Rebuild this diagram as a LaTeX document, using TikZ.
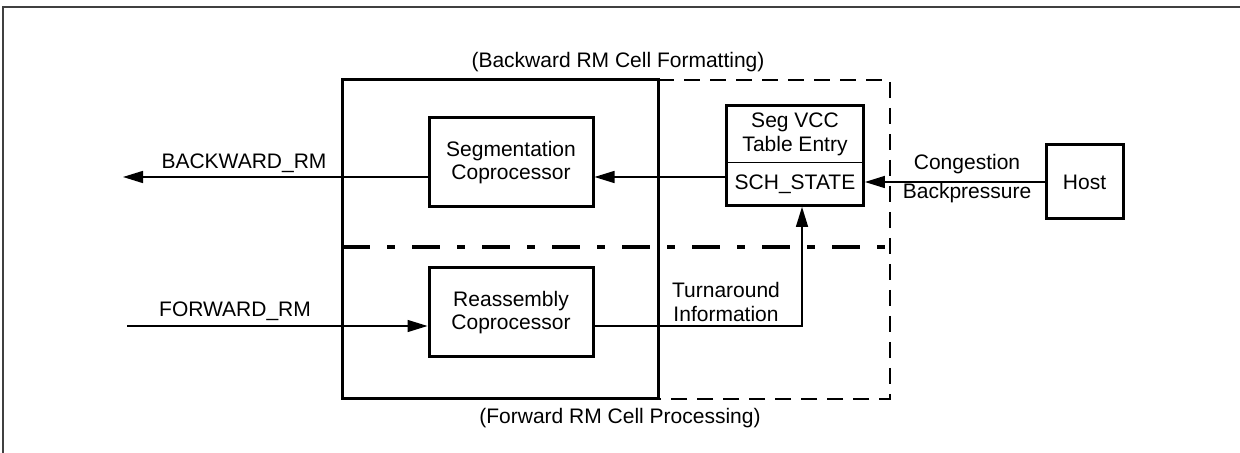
\documentclass[tikz,border=0pt]{standalone}
\usepackage{fontspec}
\setmainfont{Liberation Sans}
\usetikzlibrary{arrows.meta,fit}

\begin{document}
\begin{tikzpicture}[x=0.5pt, y=-0.5pt, >={Triangle[length=10pt,width=6pt]},
	font=\fontsize{10.5}{11.7}\selectfont,
	block/.style={draw, line width=1.5pt, minimum width=82pt, minimum height=44.5pt, align=center, inner sep=0pt},
	conn/.style={line width=0.75pt},
	lbl/.style={inner sep=0pt}]
	
	\useasboundingbox (0,0) rectangle (1240,453);
	
	% 1. Outer frame (top and left edges only)
	\draw[black!75, line width=0.8pt] (1240,7) -- (3,7) -- (3,453);
	
	% 2. Backward / forward regions
	\draw[line width=1.5pt] (342,80) rectangle (658,399);
	\draw[line width=0.9pt, dash pattern=on 8pt off 5pt] (658,80) -- (890,80) -- (890,399) -- (658,399);
	\draw[line width=2pt, dash pattern=on 14pt off 8.5pt on 4pt off 8.5pt] (342,247) -- (890,247);
	\node[lbl] (toplbl) at (618,62) {(Backward RM Cell Formatting)};
	\node[lbl] (botlbl) at (620,418) {(Forward RM Cell Processing)};
	
	% 3. Blocks
	\node[block] (segcop) at (511,162.5) {Segmentation\\Coprocessor};
	\node[block] (reacop) at (511,312.5) {Reassembly\\Coprocessor};
	\node[minimum width=68pt, minimum height=28.5pt, align=center, inner sep=0pt] (vcchead) at (795,134.5) {Seg VCC\\Table Entry};
	\node[minimum width=68pt, minimum height=21pt, inner sep=0pt] (vccstate) at (795,184) {SCH\_STATE};
	\node[draw, line width=1.5pt, fit=(vcchead)(vccstate), inner sep=0pt] (vcc) {};
	\draw[conn] (vccstate.north west) -- (vccstate.north east);
	\node[block, minimum width=38.5pt, minimum height=37pt] (host) at (1084.5,182) {Host};
	
	% 4. Connectors
	\coordinate (bwend) at (123,177);
	\coordinate (fwstart) at (127,326);
	\draw[conn, ->] (vccstate.west |- bwend) -- (segcop.east |- bwend);
	\draw[conn, ->] (segcop.west |- bwend) -- (bwend);
	\draw[conn, ->] (fwstart) -- (reacop.west |- fwstart);
	\draw[conn, ->] (reacop.east |- fwstart) -| ([xshift=3.5pt]vcc.south);
	\draw[conn, ->] (host.west) -- (vcc.east |- host.west);
	
	% 5. Connector labels
	\node[lbl] (bwlbl) at (244,163) {BACKWARD\_RM};
	\node[lbl] (fwlbl) at (235,311) {FORWARD\_RM};
	\node[lbl, align=center] (turnlbl) at (726,302) {Turnaround\\Information};
	\node[lbl] (conglbl) at (967,164) {Congestion};
	\node[lbl] (backlbl) at (967,193) {Backpressure};
	
\end{tikzpicture}
\end{document}
